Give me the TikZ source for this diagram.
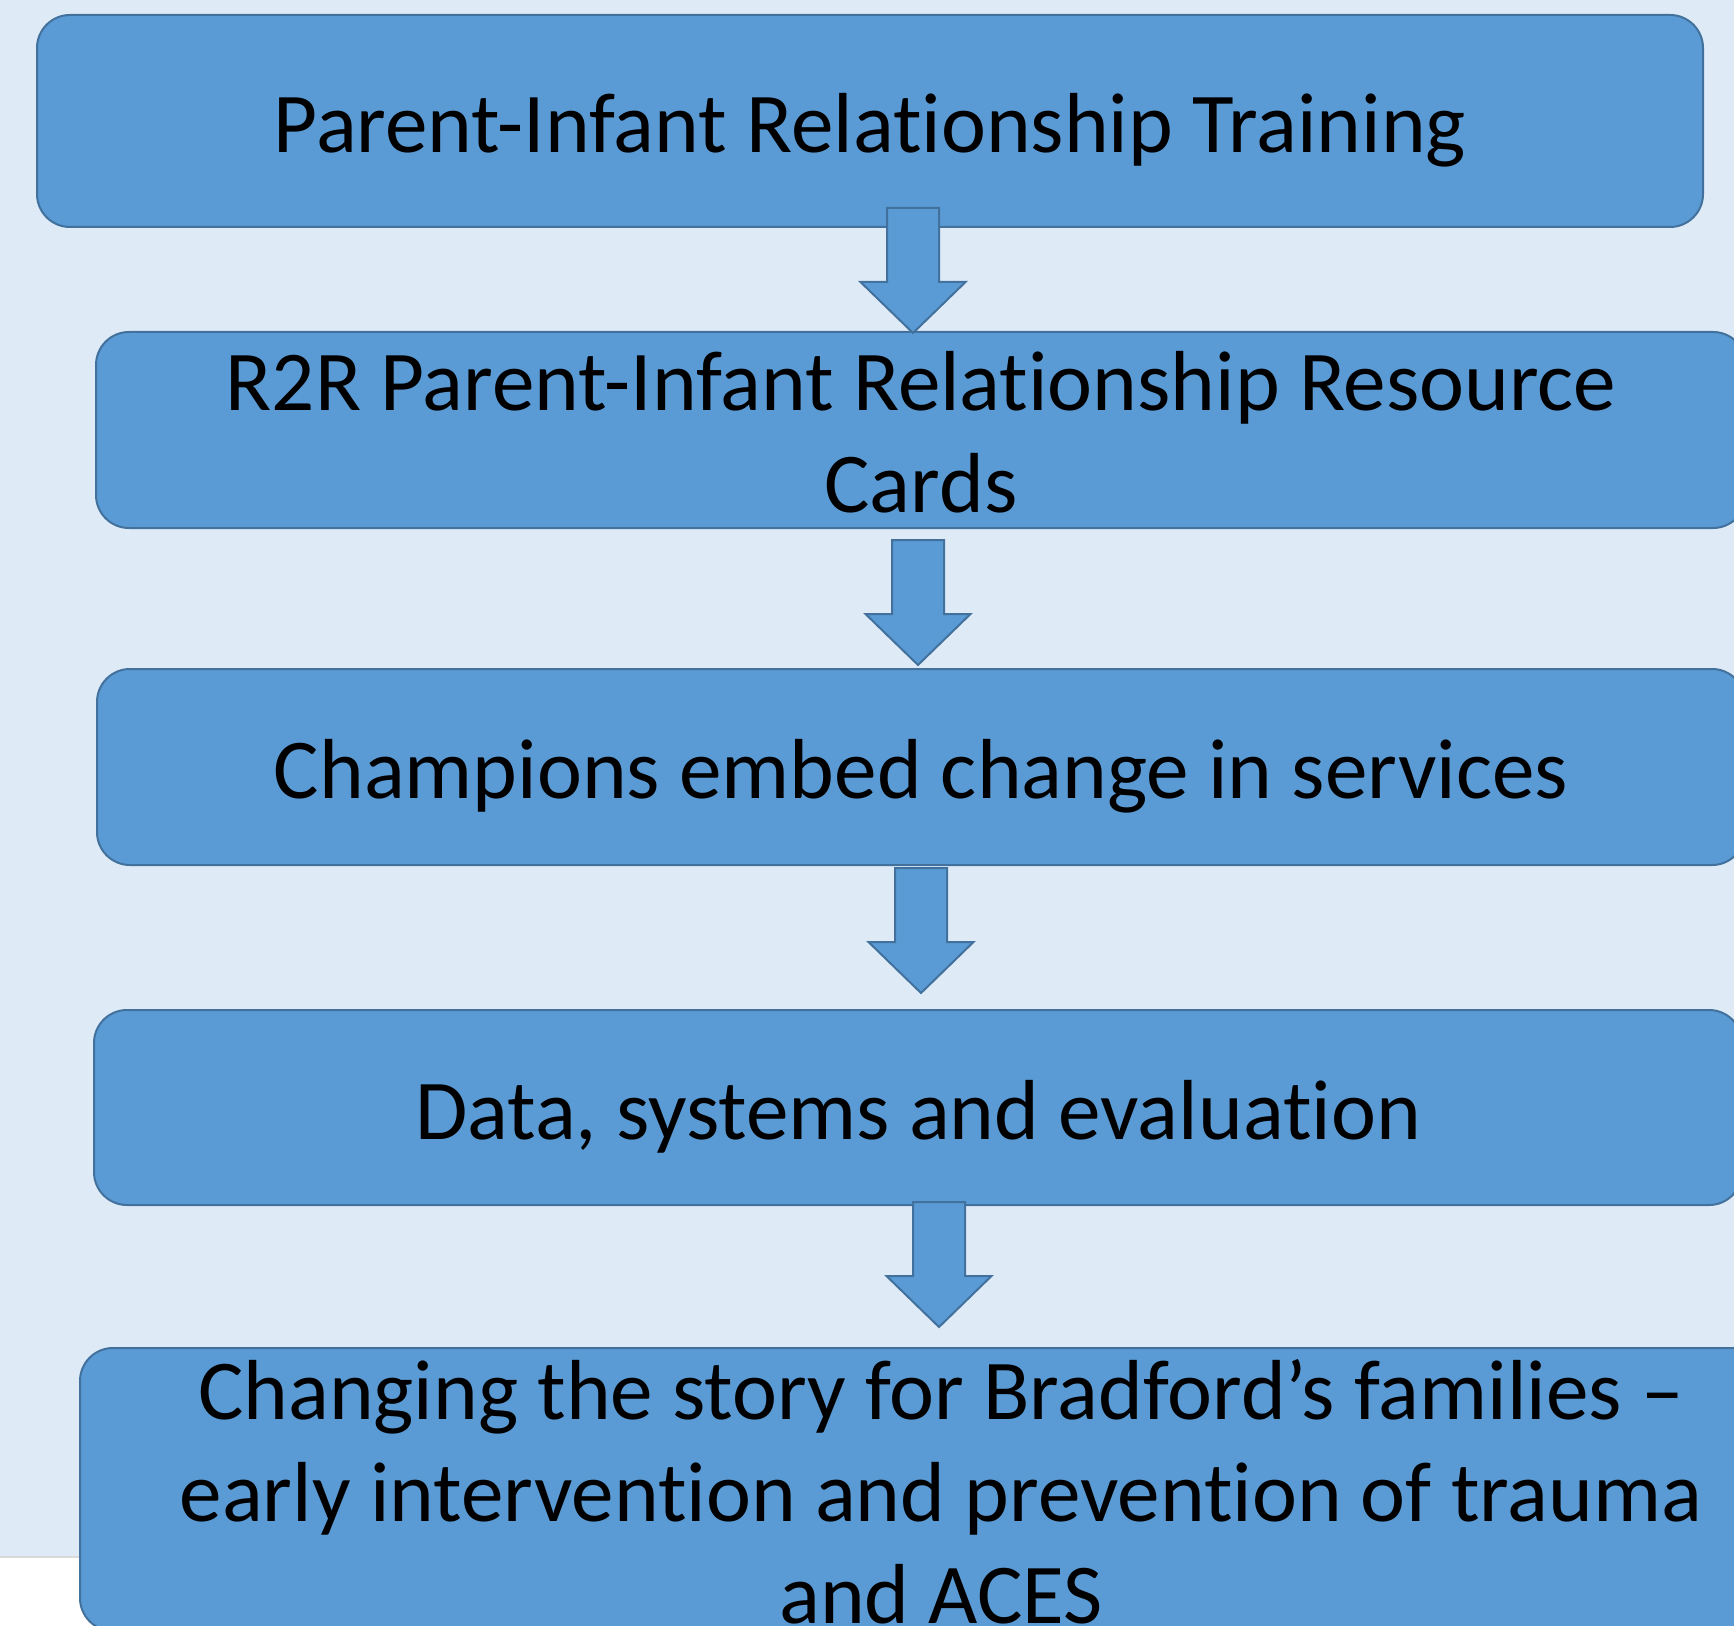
\documentclass[tikz,border=0pt]{standalone}
\usepackage{fontspec}
\setmainfont{Carlito}[Ligatures=NoCommon]
\usetikzlibrary{positioning}
\definecolor{pagebg}{RGB}{222,235,247}
\definecolor{boxfill}{RGB}{91,155,213}
\definecolor{boxline}{RGB}{65,113,156}

% block arrow pointing down, #1 = top centre of the shaft
\newcommand{\blockdown}[1]{%
    \draw[arrowshape] (#1) ++(-26,0) -- ++(52,0) -- ++(0,74) -- ++(26.5,0)
        -- ++(-52.5,51) -- ++(-52.5,-51) -- ++(26.5,0) -- cycle;}

\begin{document}
\begin{tikzpicture} [
        x=0.5pt, y=-0.5pt,
        stepbox/.style={
            rectangle,
            rounded corners=16.5pt,
            draw=boxline,
            fill=boxfill,
            line width=1pt,
            inner sep=0pt,
            text width=800pt,
            align=flush center,
            text height=38.5pt,
            text depth=7pt,
            font=\fontsize{42.6}{51}\selectfont
        },
        arrowshape/.style={
            draw=boxline,
            fill=boxfill,
            line width=1pt
        }
    ]

        \useasboundingbox (0,0) rectangle (1734,1626);
        \clip (0,0) rectangle (1734,1626);
        \fill[pagebg] (0,0) rectangle (1734,1557);
        \draw[black!15, line width=1pt] (0,1557) -- (1734,1557);

        \node[stepbox, minimum width=833pt, minimum height=106pt]   (train)    at (870,121)    {Parent-Infant Relationship Training};
        \node[stepbox, minimum width=825pt, minimum height=98pt,
              text depth=58pt]                                       (cards)    at (921,430)    {R2R Parent-Infant Relationship Resource\\Cards};
        \node[stepbox, minimum width=824pt, minimum height=98pt]    (champ)    at (921,767)    {Champions embed change in services};
        \node[stepbox, minimum width=824pt, minimum height=97.5pt]  (data)     at (918,1107.5) {Data, systems and evaluation};
        \node[stepbox, minimum width=861pt, minimum height=141.5pt,
              text height=30pt, text depth=100.5pt]                  (story)    at (941,1489.5) {Changing the story for Bradford’s families –\\early intervention and prevention of trauma\\and ACES};

        \coordinate (a1) at (913,208);
        \coordinate (a2) at (918,540);
        \coordinate (a3) at (921,868);
        \coordinate (a4) at (939,1202);

        \blockdown{a1}
        \blockdown{a2}
        \blockdown{a3}
        \blockdown{a4}

    \end{tikzpicture}
\end{document}
